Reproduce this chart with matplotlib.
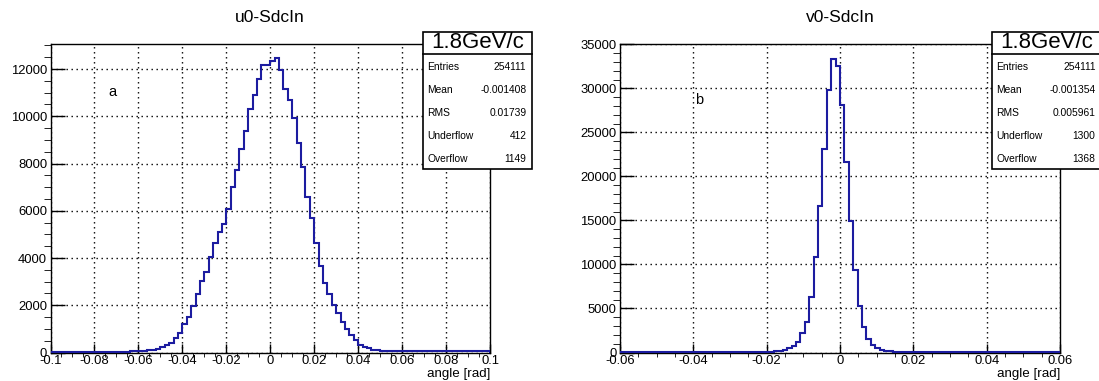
import matplotlib
matplotlib.use('Agg')
import matplotlib.pyplot as plt
from matplotlib.patches import Rectangle
from matplotlib.ticker import MultipleLocator, FuncFormatter
import numpy as np

plt.rcParams['font.family'] = ['Liberation Sans', 'DejaVu Sans']

# ---------------------------------------------------------------
# histogram contents (counts per bin)
# ---------------------------------------------------------------

# u0-SdcIn : 100 bins of 0.002 rad over [-0.1, 0.1]
u0_range = (-0.1, 0.1)
u0_counts = [
    5, 6, 6, 7, 8, 8, 9, 10, 11, 12,
    13, 15, 17, 19, 22, 26, 30, 36, 43, 52,
    62, 75, 95, 120, 160, 215, 300, 420, 600, 830,
    1200, 1520, 1975, 2470, 3030, 3400, 4060, 4650, 5090, 5430,
    6060, 6990, 7730, 8600, 9360, 10290, 10890, 11560, 12170, 12180,
    12340, 12450, 11960, 11140, 10690, 9940, 8880, 7870, 6600, 5680,
    4620, 3680, 2930, 2470, 2000, 1660, 1310, 990, 720, 510,
    330, 230, 170, 120, 95, 80, 75, 72, 70, 68,
    66, 65, 64, 62, 61, 60, 59, 58, 57, 56,
    55, 54, 53, 52, 51, 50, 50, 49, 48, 48,
]

# v0-SdcIn : 100 bins of 0.0012 rad over [-0.06, 0.06]
v0_range = (-0.06, 0.06)
v0_counts = [
    8, 8, 9, 9, 9, 10, 10, 10, 11, 11,
    11, 12, 12, 12, 13, 13, 14, 14, 15, 15,
    16, 16, 17, 17, 18, 18, 20, 24, 28, 33,
    40, 48, 58, 70, 100, 140, 200, 300, 490, 760,
    1170, 2200, 3520, 6330, 10830, 16590, 23110, 29850, 33370, 32580,
    28150, 21590, 14890, 9390, 5300, 2950, 1515, 870, 490, 300,
    200, 140, 100, 80, 65, 55, 48, 42, 38, 34,
    31, 28, 26, 24, 22, 21, 20, 19, 18, 17,
    16, 16, 15, 15, 14, 14, 13, 13, 12, 12,
    12, 11, 11, 11, 10, 10, 10, 10, 9, 9,
]

stat_names = ['Entries', 'Mean', 'RMS', 'Underflow', 'Overflow']
u0_stats = ['254111', '-0.001408', '0.01739', '412', '1149']
v0_stats = ['254111', '-0.001354', '0.005961', '1300', '1368']
momentum = '1.8GeV/c'

W, H = 1099, 381
fig = plt.figure(figsize=(W / 100, H / 100), dpi=100)


def fx(px):
    return px / W


def fy(py):
    return 1 - py / H


def tick_fmt(v, pos):
    v = round(v, 6)
    if v == 0:
        return '0'
    return f'{v:g}'


def draw_hist(left, right, counts, xrange, ymax, ymaj, ymin, title, tag, tag_xy):
    ax = fig.add_axes([fx(left), fy(352.5), (right - left) / W, 308.5 / H])
    edges = np.linspace(xrange[0], xrange[1], len(counts) + 1)
    ax.stairs(counts, edges, color='#1c1ca0', linewidth=1.5, zorder=3)
    ax.set_xlim(*xrange)
    ax.set_ylim(0, ymax)

    ax.xaxis.set_major_locator(MultipleLocator(0.02))
    ax.xaxis.set_minor_locator(MultipleLocator(0.005))
    ax.yaxis.set_major_locator(MultipleLocator(ymaj))
    ax.yaxis.set_minor_locator(MultipleLocator(ymin))
    ax.xaxis.set_major_formatter(FuncFormatter(tick_fmt))

    ax.tick_params(direction='in', top=False, right=False, labelsize=9.4, width=1.0)
    ax.tick_params(axis='x', which='major', length=6.5, pad=2)
    ax.tick_params(axis='x', which='minor', length=3.2)
    ax.tick_params(axis='y', which='major', length=10, pad=2.5)
    ax.tick_params(axis='y', which='minor', length=5)

    ax.grid(True, which='major', color='black', linestyle=(0, (1, 2.6)), linewidth=1.0)
    for s in ax.spines.values():
        s.set_linewidth(1.0)

    ax.text(1.0, -(374 - 352.5) / 308.5, 'angle [rad]', transform=ax.transAxes,
            ha='right', va='center', fontsize=9.6)
    ax.text(tag_xy[0], tag_xy[1], tag, ha='center', va='center', fontsize=10.5)
    fig.text(fx((left + right) / 2), fy(17), title, ha='center', va='center', fontsize=12.5)
    return ax


def draw_stats(bx0, bx1, values):
    top, sep, bottom = 31.5, 53.5, 168.5
    box = Rectangle((fx(bx0), fy(bottom)), (bx1 - bx0) / W, (bottom - top) / H,
                    transform=fig.transFigure, facecolor='white', edgecolor='black',
                    linewidth=1.2, zorder=5)
    fig.patches.append(box)
    fig.add_artist(plt.Line2D([fx(bx0), fx(bx1)], [fy(sep), fy(sep)],
                              transform=fig.transFigure, color='black', linewidth=1.2, zorder=6))
    fig.text(fx((bx0 + bx1) / 2), fy(43), momentum, ha='center', va='center',
             fontsize=16, zorder=7)
    rows = [67, 90, 113, 136, 159]
    for name, val, ry in zip(stat_names, values, rows):
        fig.text(fx(bx0 + 4.5), fy(ry), name, ha='left', va='center', fontsize=7.4, zorder=7)
        fig.text(fx(bx0 + 103.5), fy(ry), val, ha='right', va='center', fontsize=7.4, zorder=7)


ax1 = draw_hist(50.5, 490, u0_counts, u0_range, 13060, 2000, 500,
                'u0-SdcIn', 'a', (-0.0718, 11030))
ax2 = draw_hist(620, 1060, v0_counts, v0_range, 35050, 5000, 1000,
                'v0-SdcIn', 'b', (-0.0383, 28670))

draw_stats(423, 532, u0_stats)
draw_stats(992, 1101, v0_stats)

plt.savefig('out.png', dpi=100)
plt.close()
